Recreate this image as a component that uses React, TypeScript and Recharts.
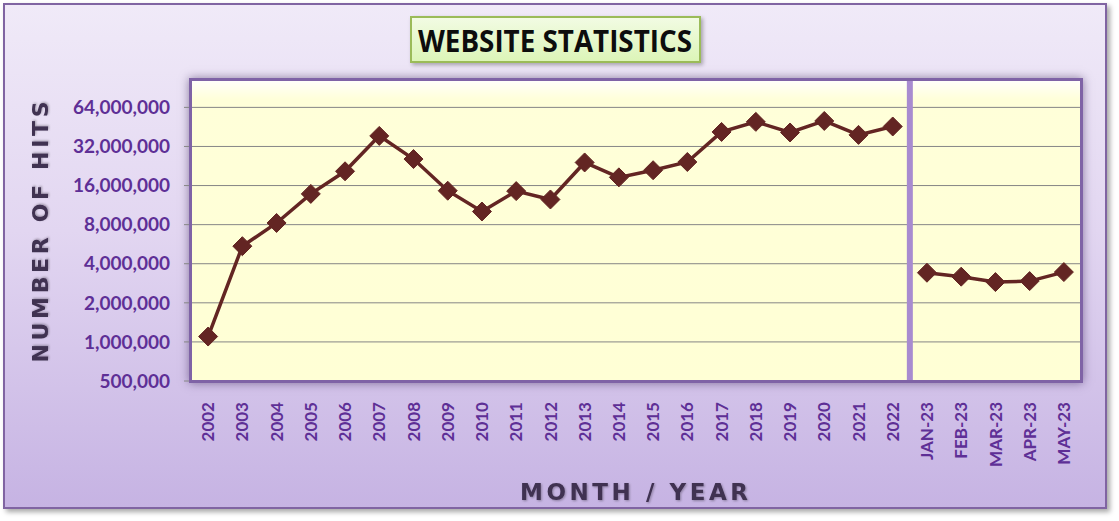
import React from 'react';
import {
  LineChart,
  Line,
  XAxis,
  YAxis,
  CartesianGrid,
  ReferenceLine,
} from 'recharts';

// categories along the x axis: yearly totals, then monthly figures for 2023
const years = [
  '2002', '2003', '2004', '2005', '2006', '2007', '2008', '2009', '2010', '2011', '2012',
  '2013', '2014', '2015', '2016', '2017', '2018', '2019', '2020', '2021', '2022',
];
const months = ['JAN-23', 'FEB-23', 'MAR-23', 'APR-23', 'MAY-23'];

const yearHits = [
  1100000, 5460000, 8240000, 13800000, 20600000, 38600000, 25600000, 14600000, 10100000,
  14500000, 12500000, 24100000, 18500000, 21000000, 24300000, 41400000, 49500000,
  41000000, 50300000, 39300000, 45600000,
];
const monthHits = [3410000, 3180000, 2890000, 2940000, 3450000];

const yTicks = [500000, 1000000, 2000000, 4000000, 8000000, 16000000, 32000000, 64000000];

const data = [
  ...years.map((cat, i) => ({ cat, yearly: yearHits[i], monthly: null as number | null })),
  ...months.map((cat, i) => ({ cat, yearly: null as number | null, monthly: monthHits[i] })),
];

const TICK_COLOR = '#5e2f96';
const LINE_COLOR = '#632523';
const LABEL_COLOR = '#3f3151';

const Diamond = (props: any) => {
  const { cx, cy, index } = props;
  if (cx == null || cy == null) return <g key={`d-${index}`} />;
  const r = 9.5;
  return (
    <polygon
      key={`d-${index}`}
      points={`${cx},${cy - r} ${cx + r},${cy} ${cx},${cy + r} ${cx - r},${cy}`}
      fill={LINE_COLOR}
      stroke={LINE_COLOR}
      strokeWidth={1}
    />
  );
};

const XTick = (props: any) => {
  const { x, y, payload } = props;
  return (
    <text
      x={x}
      y={y}
      dy="0.36em"
      transform={`rotate(-90, ${x}, ${y})`}
      textAnchor="end"
      fill={TICK_COLOR}
      fontFamily="Lato, sans-serif"
      fontWeight={700}
      fontSize={17}
    >
      {payload.value}
    </text>
  );
};

const App: React.FC = () => {
  return (
    <div style={{ position: 'absolute', left: 0, top: 0, width: 1119, height: 521, background: '#fff' }}>
      {/* outer frame */}
      <div
        style={{
          position: 'absolute',
          left: 3,
          top: 3,
          width: 1104,
          height: 506,
          boxSizing: 'border-box',
          border: '2px solid #8064a2',
          background: 'linear-gradient(180deg, #f0eaf8 0%, #e2d6f1 45%, #c6b3e3 100%)',
          boxShadow: '3px 3px 5px rgba(0,0,0,0.35)',
        }}
      />
      {/* plot area background */}
      <div
        style={{
          position: 'absolute',
          left: 189,
          top: 78,
          width: 894,
          height: 305,
          background: 'linear-gradient(180deg, #ffffff 0%, #ffffd9 7%, #ffffd5 100%)',
          boxShadow: '0 0 9px rgba(60,40,90,0.55)',
        }}
      />
      <div style={{ position: 'absolute', left: 0, top: 0 }}>
        <LineChart
          width={1119}
          height={521}
          data={data}
          margin={{ top: 80, right: 38, bottom: 0, left: 91 }}
        >
          <CartesianGrid vertical={false} stroke="#868686" strokeWidth={1} />
          <XAxis
            dataKey="cat"
            scale="band"
            interval={0}
            height={140}
            tickLine={false}
            axisLine={false}
            tickSize={0}
            tickMargin={21}
            tick={<XTick />}
          />
          <YAxis
            type="number"
            scale="log"
            domain={[500000, 104000000]}
            ticks={yTicks}
            allowDataOverflow
            interval={0}
            width={100}
            axisLine={false}
            tickLine={{ stroke: '#868686' }}
            tickSize={7}
            tickMargin={14}
            tick={{ fill: TICK_COLOR, fontFamily: 'Lato, sans-serif', fontWeight: 700, fontSize: 19 }}
            tickFormatter={(v: number) => v.toLocaleString('en-US')}
          />
          <ReferenceLine x="2022" position="end" stroke="#a88bd0" strokeWidth={6} />
          <Line
            type="linear"
            dataKey="yearly"
            stroke={LINE_COLOR}
            strokeWidth={3.5}
            dot={Diamond}
            activeDot={false}
            isAnimationActive={false}
          />
          <Line
            type="linear"
            dataKey="monthly"
            stroke={LINE_COLOR}
            strokeWidth={3.5}
            dot={Diamond}
            activeDot={false}
            isAnimationActive={false}
          />
        </LineChart>
      </div>
      {/* plot border on top */}
      <div
        style={{
          position: 'absolute',
          left: 189,
          top: 78,
          width: 894,
          height: 305,
          boxSizing: 'border-box',
          border: '3px solid #7f63a6',
          pointerEvents: 'none',
        }}
      />
      {/* title box */}
      <div
        style={{
          position: 'absolute',
          left: 410,
          top: 16,
          width: 291,
          height: 47,
          boxSizing: 'border-box',
          border: '2px solid #9bbb59',
          background: 'linear-gradient(180deg, #f2fbe3 0%, #dcf5b8 100%)',
          boxShadow: '2px 2px 4px rgba(0,0,0,0.3)',
        }}
      />
      <svg
        width={1119}
        height={521}
        style={{ position: 'absolute', left: 0, top: 0, pointerEvents: 'none' }}
      >
        <defs>
          <filter id="lblShadow" x="-10%" y="-30%" width="120%" height="160%">
            <feDropShadow dx="1" dy="1" stdDeviation="1" floodColor="#000" floodOpacity="0.3" />
          </filter>
        </defs>
        <text
          x={555}
          y={51.5}
          textAnchor="middle"
          fontFamily="'Open Sans', sans-serif"
          fontWeight={700}
          fontSize={30}
          fill="#0d0d0d"
          textLength={274}
          lengthAdjust="spacingAndGlyphs"
        >
          WEBSITE STATISTICS
        </text>
        <text
          transform="translate(48, 232) rotate(-90)"
          textAnchor="middle"
          fontFamily="'DejaVu Sans', sans-serif"
          fontWeight={700}
          fontSize={22}
          fill={LABEL_COLOR}
          textLength={261}
          lengthAdjust="spacing"
          filter="url(#lblShadow)"
        >
          NUMBER OF HITS
        </text>
        <text
          x={634}
          y={500}
          textAnchor="middle"
          fontFamily="'DejaVu Sans', sans-serif"
          fontWeight={700}
          fontSize={23}
          fill={LABEL_COLOR}
          textLength={228}
          lengthAdjust="spacing"
          filter="url(#lblShadow)"
        >
          MONTH / YEAR
        </text>
      </svg>
    </div>
  );
};

export default App;
